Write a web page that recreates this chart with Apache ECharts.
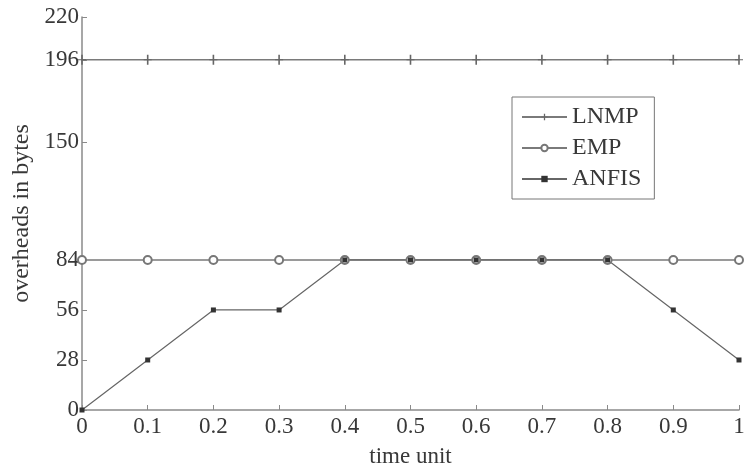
<!DOCTYPE html>
<html><head><meta charset="utf-8">
<script src="https://cdn.jsdelivr.net/npm/echarts@6/dist/echarts.min.js"></script>
<style>html,body{margin:0;padding:0;background:#fff}#c{width:745px;height:470px}</style>
</head><body><div id="c"></div>
<script>
var timeUnits = [0, 0.1, 0.2, 0.3, 0.4, 0.5, 0.6, 0.7, 0.8, 0.9, 1];
var lnmp = [196, 196, 196, 196, 196, 196, 196, 196, 196, 196, 196];
var emp = [84, 84, 84, 84, 84, 84, 84, 84, 84, 84, 84];
var anfis = [0, 28, 56, 56, 84, 84, 84, 84, 84, 56, 28];
var yTicks = [0, 28, 56, 84, 150, 196, 220];

function pairs(ys) { return timeUnits.map(function (x, i) { return [x, ys[i]]; }); }

var font = 'Liberation Serif';
var axisCol = '#8a8a8a';
var lineCol = '#7a7a7a';
var txt = '#383838';
var chart = echarts.init(document.getElementById('c'));
chart.setOption({
  animation: false,
  backgroundColor: '#fff',
  grid: { left: 82, right: 6, top: 17, bottom: 60, outerBoundsMode: 'none', containLabel: false },
  xAxis: {
    type: 'value', min: 0, max: 1, interval: 0.1,
    name: 'time unit', nameLocation: 'middle', nameGap: 35,
    nameTextStyle: { fontFamily: font, fontSize: 23, color: txt },
    axisLine: { lineStyle: { color: axisCol, width: 1.5 } },
    axisTick: { inside: true, length: 5, lineStyle: { color: axisCol } },
    axisLabel: { fontFamily: font, fontSize: 23, color: txt, margin: 5 },
    splitLine: { show: false }
  },
  yAxis: {
    type: 'value', min: 0, max: 220,
    name: 'overheads in bytes', nameLocation: 'middle', nameGap: 48,
    nameTextStyle: { fontFamily: font, fontSize: 24, color: txt },
    axisLine: { show: true, lineStyle: { color: axisCol, width: 1.5 } },
    axisTick: { show: true, inside: true, length: 5, customValues: yTicks, lineStyle: { color: axisCol } },
    axisLabel: { fontFamily: font, fontSize: 23, color: txt, margin: 3, customValues: yTicks },
    splitLine: { show: false }
  },
  legend: {
    orient: 'vertical', left: 512, top: 97,
    borderColor: '#777', borderWidth: 1,
    padding: [8, 13, 8, 9],
    itemWidth: 45, itemHeight: 8, itemGap: 7,
    textStyle: { fontFamily: font, fontSize: 24, color: txt },
    data: ['LNMP', 'EMP', 'ANFIS']
  },
  series: [
    {
      name: 'LNMP', type: 'line', data: pairs(lnmp),
      symbol: 'path://M4.4,0H5.6V10H4.4Z M2,4.5H8V5.5H2Z', symbolSize: [8, 10],
      itemStyle: { color: '#666' },
      lineStyle: { color: lineCol, width: 1.5 }
    },
    {
      name: 'EMP', type: 'line', data: pairs(emp),
      symbol: 'emptyCircle', symbolSize: 8,
      itemStyle: { color: '#777', borderWidth: 1.3 },
      lineStyle: { color: lineCol, width: 1.5 }
    },
    {
      name: 'ANFIS', type: 'line', data: pairs(anfis),
      symbol: 'rect', symbolSize: 5,
      itemStyle: { color: '#333' },
      lineStyle: { color: '#666', width: 1.2 }
    }
  ]
});
</script></body></html>
